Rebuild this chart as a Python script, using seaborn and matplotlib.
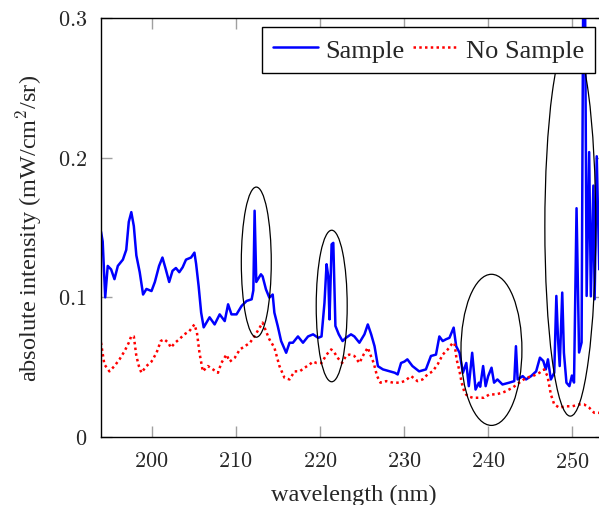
import numpy as np
import pandas as pd
import seaborn as sns
import matplotlib.pyplot as plt
from matplotlib.patches import Ellipse

# Sample (blue) spectrum
sample_wl = [194.0, 194.2, 194.5, 194.8, 195.2, 195.6, 196.0, 196.6, 197.0, 197.3,
             197.6, 197.9, 198.2, 198.6, 199.0, 199.4, 200.0, 200.4, 200.9, 201.3,
             201.7, 202.1, 202.5, 202.9, 203.3, 203.7, 204.1, 204.7, 205.1, 205.3,
             205.6, 205.9, 206.2, 206.9, 207.5, 208.1, 208.7, 209.1, 209.5, 210.1,
             210.7, 211.3, 211.9, 212.1, 212.25, 212.45, 213.0, 213.2, 213.6, 214.0,
             214.4, 214.6, 215.0, 215.4, 216.0, 216.4, 216.8, 217.4, 218.0, 218.6,
             219.2, 219.8, 220.2, 220.55, 220.8, 221.0, 221.15, 221.4, 221.6, 221.85,
             222.25, 222.7, 223.1, 223.7, 224.1, 224.7, 225.3, 225.7, 226.1, 226.5,
             226.9, 227.5, 228.3, 228.9, 229.25, 229.65, 230.05, 230.4, 231.0, 231.8,
             232.6, 233.2, 233.8, 234.2, 234.6, 235.0, 235.4, 235.9, 236.2, 236.6,
             237.0, 237.4, 237.7, 238.1, 238.5, 238.9, 239.05, 239.4, 239.7, 240.0,
             240.4, 240.7, 241.1, 241.7, 242.5, 243.1, 243.3, 243.5, 244.1, 244.5,
             245.1, 245.7, 246.15, 246.55, 246.85, 247.1, 247.45, 247.85, 248.1, 248.3,
             248.5, 248.8, 249.0, 249.3, 249.65, 249.95, 250.2, 250.5, 250.8, 251.1,
             251.3, 251.5, 251.7, 252.0, 252.2, 252.5, 252.65, 252.9, 253.2, 253.5,
             254.0]
sample_int = [0.147, 0.140, 0.100, 0.1225, 0.120, 0.113, 0.1225, 0.127, 0.134, 0.154,
              0.161, 0.151, 0.130, 0.118, 0.102, 0.106, 0.1045, 0.111, 0.1225, 0.1285,
              0.120, 0.111, 0.119, 0.121, 0.118, 0.1215, 0.127, 0.1285, 0.132, 0.124,
              0.108, 0.089, 0.0785, 0.0857, 0.0806, 0.0878, 0.083, 0.095, 0.0878, 0.0878,
              0.0938, 0.0974, 0.0986, 0.105, 0.162, 0.111, 0.1165, 0.115, 0.1057, 0.0998,
              0.102, 0.089, 0.0794, 0.0687, 0.0603, 0.0675, 0.0675, 0.072, 0.0675, 0.072,
              0.0735, 0.071, 0.072, 0.096, 0.1237, 0.115, 0.0842, 0.138, 0.139, 0.0795,
              0.0735, 0.0687, 0.071, 0.0735, 0.072, 0.0675, 0.0735, 0.0806, 0.0735, 0.065,
              0.0507, 0.0484, 0.047, 0.046, 0.0448, 0.053, 0.054, 0.0556, 0.0508, 0.047,
              0.0484, 0.058, 0.059, 0.072, 0.0687, 0.070, 0.071, 0.0783, 0.065, 0.0603,
              0.046, 0.053, 0.0364, 0.0603, 0.034, 0.0389, 0.036, 0.0508, 0.0364, 0.0436,
              0.0496, 0.0389, 0.0412, 0.0376, 0.0389, 0.040, 0.065, 0.0412, 0.0436, 0.0412,
              0.0436, 0.047, 0.0568, 0.0544, 0.0484, 0.0556, 0.0412, 0.046, 0.101, 0.070,
              0.0508, 0.1034, 0.0603, 0.0389, 0.0364, 0.044, 0.039, 0.1638, 0.0605, 0.0677,
              0.33, 0.33, 0.101, 0.204, 0.1007, 0.180, 0.0986, 0.201, 0.12, 0.19,
              0.10]

# No Sample (red dotted) spectrum
nosample_wl = [194.0, 194.4, 195.0, 195.6, 196.2, 196.8, 197.3, 197.6, 197.9, 198.2,
               198.5, 198.8, 199.4, 200.0, 200.6, 201.1, 201.5, 202.0, 202.3, 202.8,
               203.3, 203.9, 204.5, 205.1, 205.4, 205.7, 206.1, 206.7, 207.3, 207.9,
               208.3, 208.9, 209.3, 209.9, 210.5, 211.1, 211.7, 212.25, 212.85, 213.2,
               213.6, 214.0, 214.6, 215.2, 215.8, 216.4, 217.0, 217.6, 218.2, 218.8,
               219.2, 219.6, 220.2, 220.8, 221.35, 221.75, 222.1, 222.65, 223.1, 223.5,
               224.1, 224.7, 225.2, 225.7, 226.0, 226.4, 226.8, 227.2, 227.9, 228.7,
               229.5, 230.05, 230.85, 231.6, 232.2, 232.8, 233.4, 234.0, 234.6, 235.2,
               235.8, 236.0, 236.25, 236.6, 236.85, 237.2, 237.55, 238.15, 238.95, 239.5,
               240.15, 240.9, 241.7, 242.1, 242.9, 243.7, 244.5, 245.3, 246.1, 246.65,
               247.05, 247.45, 247.85, 248.45, 249.2, 250.0, 250.8, 251.4, 252.0, 252.6,
               253.1, 254.0]
nosample_int = [0.0675, 0.052, 0.047, 0.0508, 0.0556, 0.0615, 0.0675, 0.0723, 0.072, 0.058,
                0.0508, 0.046, 0.0508, 0.054, 0.0603, 0.0687, 0.070, 0.0675, 0.064, 0.0675,
                0.070, 0.0735, 0.0758, 0.0806, 0.0747, 0.0603, 0.047, 0.0508, 0.0484, 0.046,
                0.053, 0.059, 0.054, 0.0568, 0.0627, 0.065, 0.0675, 0.0723, 0.0783, 0.0819,
                0.0758, 0.070, 0.064, 0.0508, 0.0424, 0.0412, 0.047, 0.047, 0.0496, 0.052,
                0.054, 0.053, 0.053, 0.059, 0.0627, 0.0603, 0.0568, 0.053, 0.058, 0.059,
                0.058, 0.053, 0.059, 0.064, 0.059, 0.053, 0.0436, 0.0389, 0.040, 0.0389,
                0.0389, 0.040, 0.0436, 0.040, 0.0412, 0.0448, 0.047, 0.052, 0.059, 0.0627,
                0.0675, 0.067, 0.0556, 0.047, 0.0389, 0.0317, 0.0293, 0.0281, 0.0281, 0.0281,
                0.0305, 0.0305, 0.0317, 0.0328, 0.0353, 0.0389, 0.0424, 0.0436, 0.046, 0.0484,
                0.0436, 0.0305, 0.0233, 0.021, 0.022, 0.022, 0.0233, 0.0233, 0.021, 0.0173,
                0.0173, 0.0175]

# highlighted regions: centre x, centre y, width, height
ell_x = [212.45, 221.41, 240.39, 249.76]
ell_y = [0.1252, 0.0938, 0.0624, 0.1507]
ell_w = [3.56, 3.68, 7.24, 6.05]
ell_h = [0.1075, 0.1085, 0.1082, 0.2715]

xticks = [200, 210, 220, 230, 240, 250]
yticks = [0, 0.1, 0.2, 0.3]
ytick_labels = ['0', '0.1', '0.2', '0.3']

sns.set_theme(style='ticks')
plt.rcParams['font.family'] = ['Liberation Serif', 'DejaVu Serif']
plt.rcParams['mathtext.fontset'] = 'cm'

df_s = pd.DataFrame({'wl': sample_wl, 'I': sample_int})
df_n = pd.DataFrame({'wl': nosample_wl, 'I': nosample_int})

fig = plt.figure(figsize=(5.99, 5.06), dpi=100)
ax = fig.add_axes([101 / 599, 1 - 438 / 506, 505 / 599, 419 / 506])

sns.lineplot(data=df_s, x='wl', y='I', ax=ax, color='#0000ff', lw=1.8,
             sort=False, estimator=None, label='Sample')
sns.lineplot(data=df_n, x='wl', y='I', ax=ax, color='#ff0000', lw=1.8,
             sort=False, estimator=None, label='No Sample', linestyle=':')
ax.lines[1].set_dashes([1, 1.3])

for cx, cy, w, h in zip(ell_x, ell_y, ell_w, ell_h):
    ax.add_patch(Ellipse((cx, cy), w, h, fill=False, ec='black', lw=0.9, zorder=3))

ax.set_xlim(194, 254)
ax.set_ylim(0, 0.3)
ax.set_xticks(xticks)
ax.set_xticklabels([f'${t}$' for t in xticks])
ax.set_yticks(yticks)
ax.set_yticklabels([f'${t}$' for t in ytick_labels])
ax.tick_params(direction='in', top=True, right=True, length=8, width=1,
               color='#a0a0a0', labelsize=16)
ax.tick_params(axis='x', pad=11)
ax.tick_params(axis='y', pad=10)
for sp in ax.spines.values():
    sp.set_linewidth(1.0)
    sp.set_color('black')

ax.set_xlabel('wavelength (nm)', fontsize=17.5, labelpad=8)
ax.set_ylabel('absolute intensity (mW/cm$^2$/sr)', fontsize=17.5, labelpad=10)

leg = ax.legend(loc='upper right', bbox_to_anchor=(0.978, 0.9785), ncol=2,
                fontsize=19, frameon=True, fancybox=False, edgecolor='black',
                framealpha=1, handlelength=1.7, columnspacing=0.3,
                handletextpad=0.3, borderpad=0.42, borderaxespad=0)
leg.get_frame().set_linewidth(1.0)
leg.set_zorder(10)

fig.savefig('out.png', dpi=100)
